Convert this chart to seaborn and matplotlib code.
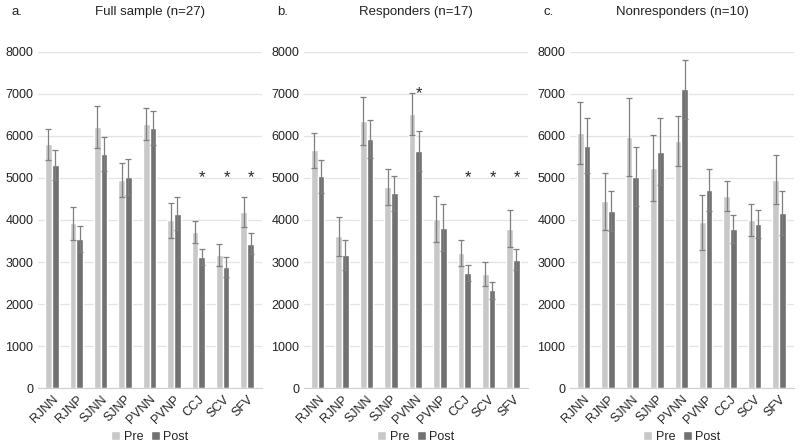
import matplotlib
matplotlib.use('Agg')
import matplotlib.pyplot as plt
import seaborn as sns
import pandas as pd

# Categories and groups
measures = ['RJNN', 'RJNP', 'SJNN', 'SJNP', 'PVNN', 'PVNP', 'CCJ', 'SCV', 'SFV']
times = ['Pre', 'Post']

# a. Full sample (n=27)
full_pre = [5800, 3920, 6200, 4950, 6270, 3990, 3720, 3160, 4190]
full_post = [5300, 3550, 5560, 5020, 6180, 4150, 3130, 2880, 3440]
full_pre_err = [370, 390, 500, 400, 380, 410, 260, 260, 360]
full_post_err = [350, 300, 400, 420, 400, 400, 190, 230, 250]
full_stars = [('CCJ', 5000), ('SCV', 5000), ('SFV', 5000)]

# b. Responders (n=17)
resp_pre = [5650, 3610, 6350, 4780, 6510, 4020, 3220, 2720, 3790]
resp_post = [5040, 3170, 5920, 4630, 5640, 3820, 2750, 2330, 3060]
resp_pre_err = [410, 460, 580, 430, 500, 540, 310, 290, 440]
resp_post_err = [390, 350, 450, 420, 470, 550, 190, 200, 240]
resp_stars = [('PVNN', 7000), ('CCJ', 5000), ('SCV', 5000), ('SFV', 5000)]

# c. Nonresponders (n=10)
non_pre = [6070, 4440, 5970, 5230, 5880, 3940, 4570, 4000, 4960]
non_post = [5760, 4210, 5030, 5620, 7100, 4710, 3790, 3900, 4160]
non_pre_err = [730, 680, 920, 780, 600, 650, 360, 370, 580]
non_post_err = [650, 480, 700, 790, 700, 490, 330, 330, 520]
non_stars = []

panels = [
    ('a.', 'Full sample (n=27)', full_pre, full_post, full_pre_err, full_post_err, full_stars),
    ('b.', 'Responders (n=17)', resp_pre, resp_post, resp_pre_err, resp_post_err, resp_stars),
    ('c.', 'Nonresponders (n=10)', non_pre, non_post, non_pre_err, non_post_err, non_stars),
]

sns.set_style('white')
plt.rcParams['font.family'] = ['Liberation Sans', 'DejaVu Sans']

palette = {'Pre': '#c8c8c8', 'Post': '#717171'}

fig, axes = plt.subplots(1, 3, figsize=(8, 4.48), dpi=100)
fig.subplots_adjust(left=0.048, right=0.992, top=0.885, bottom=0.133, wspace=0.19)

for ax, (letter, title, pre, post, pre_err, post_err, stars) in zip(axes, panels):
    df = pd.DataFrame({
        'measure': measures * 2,
        'time': ['Pre'] * len(measures) + ['Post'] * len(measures),
        'value': pre + post,
        'err': pre_err + post_err,
    })
    sns.barplot(data=df, x='measure', y='value', hue='time', order=measures,
                hue_order=times, palette=palette, errorbar=None, width=0.55,
                gap=0.0, ax=ax, legend=True, saturation=1)

    # error bars at the bar centres
    bars = [p for p in ax.patches if p.get_height() > 0][:2 * len(measures)]
    for bar, val, err in zip(bars, df['value'], df['err']):
        xc = bar.get_x() + bar.get_width() / 2
        ax.errorbar(xc, val, yerr=err, color='#7f7f7f', elinewidth=0.9,
                    capsize=2, capthick=0.9, zorder=5)

    # significance markers over the Post bar
    for name, yv in stars:
        i = measures.index(name)
        ax.text(i + 0.16, yv, '*', ha='center', va='center', fontsize=12)

    ax.set_ylim(0, 8000)
    ax.set_yticks(range(0, 8001, 1000))
    ax.set_xlim(-0.55, len(measures) - 0.4)
    ax.yaxis.grid(True, color='#e3e3e3', linewidth=0.9)
    ax.set_axisbelow(True)
    for s in ['top', 'right', 'left']:
        ax.spines[s].set_visible(False)
    ax.spines['bottom'].set_color('#d0d0d0')
    ax.tick_params(axis='both', length=0, labelsize=9, colors='#222222')
    ax.set_xticks(range(len(measures)))
    ax.set_xticklabels(measures, rotation=45, ha='right', rotation_mode='anchor')
    ax.set_xlabel('')
    ax.set_ylabel('')

    # panel letter and title on one row above the plot
    ax.text(0.5, 1.118, title, transform=ax.transAxes, fontsize=9.5,
            color='#222222', ha='center', va='center')
    ax.text(-0.12, 1.118, letter, transform=ax.transAxes, fontsize=9.5,
            color='#222222', va='center')

    ax.legend(loc='center', bbox_to_anchor=(0.5, -0.143), ncol=2,
              frameon=False, fontsize=9, handlelength=0.7, handleheight=0.7,
              handletextpad=0.3, columnspacing=0.6)

fig.savefig('out.png', dpi=100)
